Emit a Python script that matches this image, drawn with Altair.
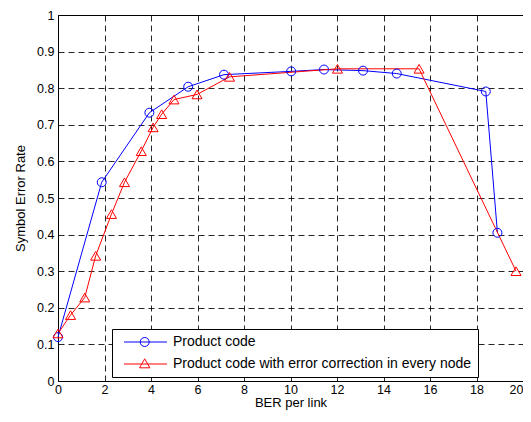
import altair as alt
import pandas as pd

names = ["Product code", "Product code with error correction in every node"]

blue_x = [0, 1.88, 3.93, 5.6, 7.14, 10.03, 11.44, 13.12, 14.57, 18.4, 18.9]
blue_y = [0.12, 0.543, 0.733, 0.804, 0.837, 0.846, 0.851, 0.848, 0.840, 0.791, 0.405]
red_x = [0, 0.54, 1.15, 1.62, 2.3, 2.86, 3.58, 4.09, 4.46, 4.99, 5.98, 7.38, 12.02, 15.53, 19.7]
red_y = [0.13, 0.18, 0.228, 0.342, 0.456, 0.543, 0.628, 0.693, 0.729, 0.769, 0.783, 0.831, 0.853, 0.853, 0.30]

x_ticks = [0, 2, 4, 6, 8, 10, 12, 14, 16, 18, 20]
y_ticks = [0, 0.1, 0.2, 0.3, 0.4, 0.5, 0.6, 0.7, 0.8, 0.9, 1.0]

blue_df = pd.DataFrame({"x": blue_x, "y": blue_y, "i": range(len(blue_x))})
red_df = pd.DataFrame({"x": red_x, "y": red_y, "i": range(len(red_x))})

FONT = "Liberation Sans"

xenc = alt.X("x:Q", scale=alt.Scale(domain=[0, 20], nice=False, zero=False),
             axis=alt.Axis(values=x_ticks, title="BER per link", format="d", labelFlush=False,
                           labelAlign={"expr": "datum.value >= 20 ? 'right' : 'center'"}))
yenc = alt.Y("y:Q", scale=alt.Scale(domain=[0, 1], nice=False),
             axis=alt.Axis(values=y_ticks, title="Symbol Error Rate", format=".1~f", labelFlush=False))

blue_line = alt.Chart(blue_df).mark_line(color="#0000ff", strokeWidth=1).encode(x=xenc, y=yenc, order="i:Q")
red_line = alt.Chart(red_df).mark_line(color="#ff0000", strokeWidth=1).encode(x=xenc, y=yenc, order="i:Q")
blue_pts = alt.Chart(blue_df).mark_point(shape="circle", color="#0000ff", size=80, strokeWidth=1,
                                         filled=False, opacity=1).encode(x=xenc, y=yenc)
red_pts = alt.Chart(red_df).mark_point(shape="triangle-up", color="#ff0000", size=100, strokeWidth=1,
                                       filled=False, opacity=1).encode(x=xenc, y=yenc)

circle_path = "M-0.22,0L9.33,0M3.38,0A1,1,0,1,1,5.38,0A1,1,0,1,1,3.38,0"
tri_path = "M-0.22,0L9.33,0M4.38,-1.15L5.53,0.85L3.23,0.85Z"

leg = dict(title=None, orient="none", legendX=54, legendY=314,
           direction="vertical", fillColor="white", strokeColor="black",
           padding=6, symbolSize=81, symbolStrokeWidth=1,
           symbolOpacity=1, labelFont=FONT, labelFontSize=14,
           labelColor="black", labelOffset=41, rowPadding=7, labelLimit=500)

legend_df = pd.DataFrame({"series": names})
legend_layer = alt.Chart(legend_df).transform_filter("false").mark_point(filled=False).encode(
    color=alt.Color("series:N", scale=alt.Scale(domain=names, range=["#0000ff", "#ff0000"]),
                    legend=alt.Legend(**leg)),
    shape=alt.Shape("series:N", scale=alt.Scale(domain=names, range=[circle_path, tri_path]),
                    legend=alt.Legend(**leg)),
)

chart = alt.layer(blue_line, red_line, blue_pts, red_pts, legend_layer).properties(
    width=465, height=366,
    padding={"left": 50, "top": 7, "right": 0, "bottom": 29},
    autosize=alt.AutoSizeParams(type="none"),
).configure_view(stroke="black", strokeWidth=1).configure_axis(
    grid=True, gridColor="black", gridDash=[6, 4], gridWidth=1, gridOpacity=0.85,
    ticks=False, domain=False,
    labelFont=FONT, labelFontSize=12.5, labelColor="black",
    titleFont=FONT, titleFontSize=13, titleFontWeight="normal", titleColor="black",
).configure_axisX(labelPadding=2, titlePadding=1).configure_axisY(labelPadding=4, titlePadding=9)

chart.save("out.html", embed_options={"renderer": "svg", "actions": False})
